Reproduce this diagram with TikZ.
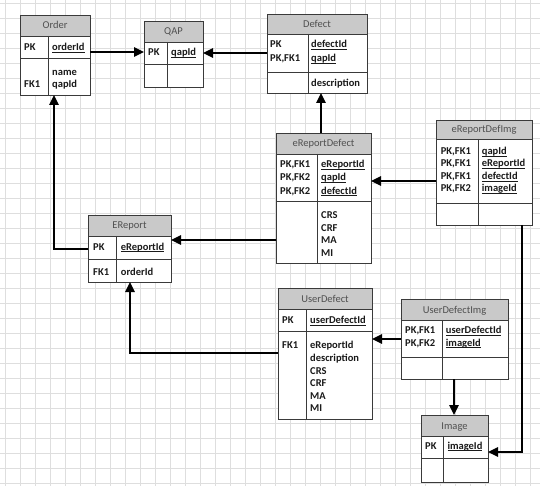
\documentclass[tikz,border=0pt]{standalone}
\usepackage{fontspec}
\setmainfont{Carlito}
\usetikzlibrary{arrows.meta}
\definecolor{tborder}{HTML}{3A3A3A}
\definecolor{tfill}{HTML}{C9C9C9}
\definecolor{ttext}{HTML}{505050}
\definecolor{gridc}{HTML}{DEDEDE}
\definecolor{ftext}{HTML}{1A1A1A}
\tikzset{
  gridline/.style={draw=gridc, line width=0.8pt},
  tline/.style={draw=tborder, line width=0.9pt},
  ttl/.style={inner sep=0pt, anchor=base, text=ttext, font=\fontsize{10.5}{12.6}\selectfont},
  fld/.style={inner sep=0pt, anchor=base west, text=ftext, font=\fontsize{10.5}{12.6}\selectfont\bfseries},
  conn/.style={draw=black, line width=1.3pt, -{Triangle[length=10pt,width=9.5pt]}},
}
\newcommand\ukey[1]{\underline{\smash{#1}}}
% name, L, T, R, B, title bottom, section divider, column divider
\newcommand\tframe[8]{%
  \fill[white] (#2,#3) rectangle (#4,#5);
  \fill[tfill] (#2,#3) rectangle (#4,#6);
  \draw[tline] (#2,#6) -- (#4,#6);
  \draw[tline] (#2,#7) -- (#4,#7);
  \draw[tline] (#8,#6) -- (#8,#5);
  \node[tline, anchor=north west, inner sep=0pt, outer sep=0pt,
        minimum width={(#4-#2)*1pt}, minimum height={(#5-#3)*1pt}] (#1) at (#2,#3) {};
}
% name prefix, x, y of first line centre, spacing, list
\newcommand\fcol[5]{%
  \foreach \t [count=\i] in {#5} {\node[fld] (#1-\i) at (#2,{#3+3.5+(\i-1)*#4}) {\t};}
}
\newcommand\ttitle[4]{\node[ttl] (#1) at (#2,{#3+3.5}) {#4};}
\begin{document}
\begin{tikzpicture}[x=1pt,y=-1pt]
\useasboundingbox (0,0) rectangle (540,486);
\fill[white] (0,0) rectangle (540,486);
\foreach \k in {0,...,35} {\draw[gridline] ({5.7+15*\k},0) -- ({5.7+15*\k},486);}
\foreach \k in {0,...,32} {\draw[gridline] (0,{3.3+15*\k}) -- (540,{3.3+15*\k});}

% tables
\tframe{order}{20}{15}{90}{95}{36}{58}{48}
\tframe{qap}{144}{21}{203}{87}{42}{64}{167}
\tframe{defect}{267}{14}{367}{93}{34}{72}{308}
\tframe{erd}{276}{133}{371}{263}{154}{201}{317}
\tframe{erdi}{436}{120}{532}{225}{139}{203}{478}
\tframe{ereport}{88}{215}{171}{282}{236}{259}{116}
\tframe{ud}{278}{288}{372}{419}{309}{331}{306}
\tframe{udi}{401}{299}{508}{379}{320}{357}{442}
\tframe{image}{421}{415}{488}{482}{436}{458}{443}

% titles
\ttitle{order-t}{55}{25.5}{Order}
\ttitle{qap-t}{173.5}{31.5}{QAP}
\ttitle{defect-t}{317}{24}{Defect}
\ttitle{erd-t}{323.5}{143.5}{eReportDefect}
\ttitle{erdi-t}{484}{129.5}{eReportDefImg}
\ttitle{ereport-t}{129.5}{225.5}{EReport}
\ttitle{ud-t}{325}{298.5}{UserDefect}
\ttitle{udi-t}{454.5}{309.5}{UserDefectImg}
\ttitle{image-t}{454.5}{425.5}{Image}

% Order
\fcol{order-k}{24}{47}{12.6}{PK}
\fcol{order-f}{52}{47}{12.6}{\ukey{orderId}}
\fcol{order-ak}{24}{84}{12.6}{FK1}
\fcol{order-a}{52}{71.7}{12.4}{name,qapId}
% QAP
\fcol{qap-k}{148}{52}{12.6}{PK}
\fcol{qap-f}{171}{52}{12.6}{\ukey{qapId}}
% Defect
\fcol{defect-k}{270}{44.3}{14}{PK,{PK,FK1}}
\fcol{defect-f}{311}{44.3}{14}{\ukey{defectId},\ukey{qapId}}
\fcol{defect-a}{311}{82.7}{12.6}{description}
% eReportDefect
\fcol{erd-k}{280}{164}{13.3}{{PK,FK1},{PK,FK2},{PK,FK2}}
\fcol{erd-f}{321}{164}{13.3}{\ukey{eReportId},\ukey{qapId},\ukey{defectId}}
\fcol{erd-a}{321}{215}{12.5}{CRS,CRF,MA,MI}
% eReportDefImg
\fcol{erdi-k}{440.7}{151}{12.5}{{PK,FK1},{PK,FK1},{PK,FK1},{PK,FK2}}
\fcol{erdi-f}{481.7}{151}{12.5}{\ukey{qapId},\ukey{eReportId},\ukey{defectId},\ukey{imageId}}
% EReport
\fcol{ereport-k}{93}{246.7}{12.6}{PK}
\fcol{ereport-f}{120.7}{246.7}{12.6}{\ukey{eReportId}}
\fcol{ereport-ak}{93}{271.7}{12.6}{FK1}
\fcol{ereport-a}{120.7}{271.7}{12.6}{orderId}
% UserDefect
\fcol{ud-k}{282}{320}{12.6}{PK}
\fcol{ud-f}{310}{320}{12.6}{\ukey{userDefectId}}
\fcol{ud-ak}{282}{345.3}{12.6}{FK1}
\fcol{ud-a}{310}{345.3}{12.6}{eReportId,description,CRS,CRF,MA,MI}
% UserDefectImg
\fcol{udi-k}{405}{330}{12.7}{{PK,FK1},{PK,FK2}}
\fcol{udi-f}{445.7}{330}{12.7}{\ukey{userDefectId},\ukey{imageId}}
% Image
\fcol{image-k}{425}{445.7}{12.6}{PK}
\fcol{image-f}{447.3}{445.7}{12.6}{\ukey{imageId}}

% connectors
\draw[conn] (order.east |- 0,52) -- (qap.west |- 0,52);
\draw[conn] (defect.west |- 0,53) -- (qap.east |- 0,53);
\draw[conn] (erd.north -| 321,0) -- (defect.south -| 321,0);
\draw[conn] (erdi.west |- 0,181) -- (erd.east |- 0,181);
\draw[conn] (erd.west |- 0,240) -- (ereport.east |- 0,240);
\draw[conn] (ereport.west |- 0,249) -| (order.south -| 54,0);
\draw[conn] (ud.west |- 0,353) -| (ereport.south -| 130,0);
\draw[conn] (udi.west |- 0,339) -- (ud.east |- 0,339);
\draw[conn] (udi.south -| 454,0) -- (image.north -| 454,0);
\draw[conn] (erdi.south -| 522,0) |- (image.east |- 0,452);
\end{tikzpicture}
\end{document}
